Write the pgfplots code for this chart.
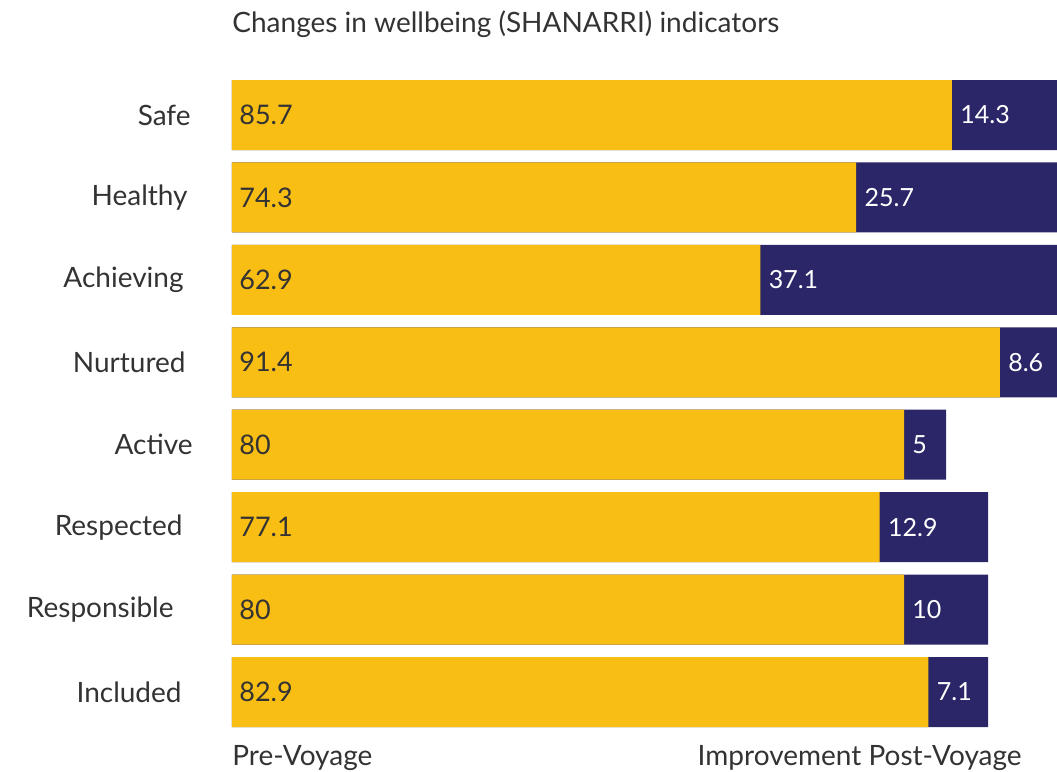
\documentclass[border=0pt]{standalone}
\usepackage{pgfplots}
\pgfplotsset{compat=1.18}
\usepackage{pgfplotstable}
\usepackage{fontspec}
\setmainfont{Lato}
\definecolor{gold}{HTML}{F9BE14}
\definecolor{navy}{HTML}{2A2668}
\definecolor{txt}{HTML}{333333}
\pgfplotstableread{
idx pre imp
0 85.7 14.3
1 74.3 25.7
2 62.9 37.1
3 91.4 8.6
4 80 5
5 77.1 12.9
6 80 10
7 82.9 7.1
}\data
\begin{document}
\begin{tikzpicture}
\useasboundingbox (0,0) rectangle (528.5pt,-386pt);
\begin{axis}[at={(116pt,-36.9pt)}, anchor=north west, scale only axis,
  width=412.5pt, height=329.7pt,
  xmin=0, xmax=98.2, ymin=-0.5, ymax=7.5, y dir=reverse,
  axis line style={draw=none}, xtick=\empty, ytick={0,...,7},
  major tick length=0pt,
  yticklabels={Safe\hspace*{1pt}, Healthy\hspace*{2.5pt}, Achieving\hspace*{4.5pt}, Nurtured\hspace*{3.5pt}, Active, Respected\hspace*{5pt}, Responsible\hspace*{9.5pt}, Included\hspace*{5.5pt}},
  yticklabel style={font=\fontsize{14}{16}\selectfont, color=txt, anchor=east, inner sep=0pt, xshift=-19.5pt},
]
\addplot[xbar, bar width=35pt, bar shift=0pt, fill=navy, draw=none] table[x expr=\thisrow{pre}+\thisrow{imp}, y=idx]{\data};
\addplot[xbar, bar width=35pt, bar shift=0pt, fill=gold, draw=none] table[x=pre, y=idx]{\data};
\addplot[draw=none, nodes near coords, point meta=explicit symbolic,
  nodes near coords style={anchor=west, xshift=3.5pt, inner sep=0pt, color=txt, font=\fontsize{13.5}{15}\selectfont}]
  table[x expr=0, y=idx, meta=pre]{\data};
\addplot[draw=none, nodes near coords, point meta=explicit symbolic,
  nodes near coords style={anchor=west, xshift=4pt, inner sep=0pt, color=white, font=\fontsize{12.5}{14}\selectfont}]
  table[x=pre, y=idx, meta=imp]{\data};
\end{axis}
\node[anchor=base west, inner sep=0pt, color=txt, font=\fontsize{14}{16}\selectfont] at (116pt,-16pt) {Changes in wellbeing (SHANARRI) indicators};
\node[anchor=base west, inner sep=0pt, color=txt, font=\fontsize{14}{16}\selectfont] at (116pt,-382.5pt) {Pre-Voyage};
\node[anchor=base east, inner sep=0pt, color=txt, font=\fontsize{14}{16}\selectfont] at (511pt,-382.5pt) {Improvement Post-Voyage};
\end{tikzpicture}
\end{document}
